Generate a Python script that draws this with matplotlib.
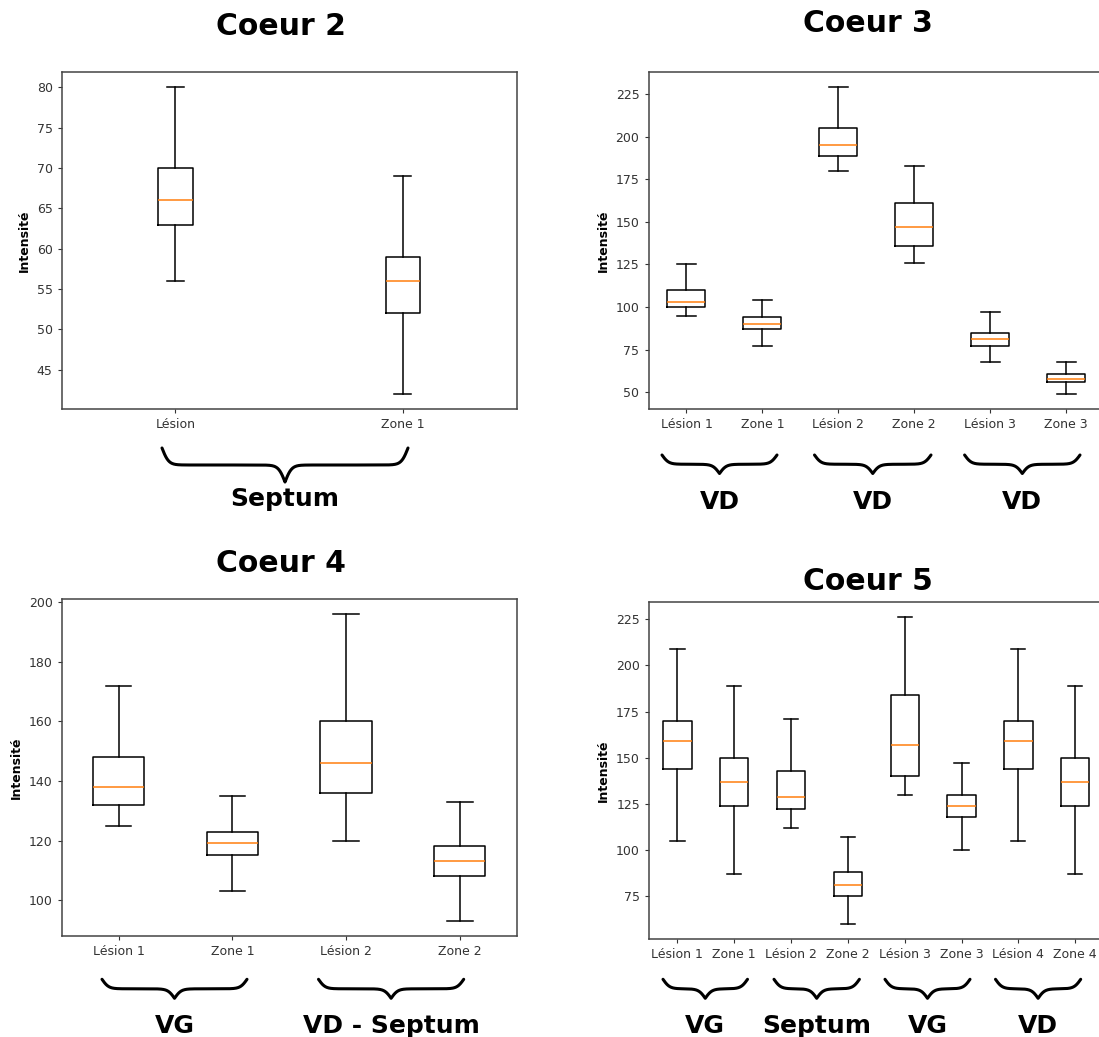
import numpy as np
import matplotlib
matplotlib.use("Agg")
import matplotlib.pyplot as plt
from matplotlib.lines import Line2D
from matplotlib.ticker import MultipleLocator

# ---- data: whisker low, q1, median, q3, whisker high ----
c2_labels = ["Lésion", "Zone 1"]
c2_whislo = [56, 42]
c2_q1 = [63, 52]
c2_med = [66, 56]
c2_q3 = [70, 59]
c2_whishi = [80, 69]

c3_labels = ["Lésion 1", "Zone 1", "Lésion 2", "Zone 2", "Lésion 3", "Zone 3"]
c3_whislo = [95, 77, 180, 126, 68, 49]
c3_q1 = [100, 87, 188.5, 136, 77, 56]
c3_med = [103, 90, 195, 147, 81, 58]
c3_q3 = [110, 94, 205, 161, 85, 61]
c3_whishi = [125, 104, 229, 183, 97, 68]

c4_labels = ["Lésion 1", "Zone 1", "Lésion 2", "Zone 2"]
c4_whislo = [125, 103, 120, 93]
c4_q1 = [132, 115, 136, 108]
c4_med = [138, 119, 146, 113]
c4_q3 = [148, 123, 160, 118]
c4_whishi = [172, 135, 196, 133]

c5_labels = ["Lésion 1", "Zone 1", "Lésion 2", "Zone 2",
             "Lésion 3", "Zone 3", "Lésion 4", "Zone 4"]
c5_whislo = [105, 87, 112, 60, 130, 100, 105, 87]
c5_q1 = [144, 124, 122, 75, 140, 118, 144, 124]
c5_med = [159, 137, 129, 81, 157, 124, 159, 137]
c5_q3 = [170, 150, 143, 88, 184, 130, 170, 150]
c5_whishi = [209, 189, 171, 107, 226, 147, 209, 189]

W, H = 1099, 1037
fig = plt.figure(figsize=(W / 100, H / 100), dpi=100)
fig.patch.set_facecolor("white")


def px_axes(left, top, right, bottom):
    """Add axes from pixel box (origin top-left)."""
    return fig.add_axes([left / W, 1 - bottom / H, (right - left) / W, (bottom - top) / H])


def fig_text(x, y, s, **kw):
    fig.text(x / W, 1 - y / H, s, **kw)


def brace(x1, x2, ytop, ytip, beta=0.3):
    xs = np.linspace(x1, (x1 + x2) / 2, 200)
    half = 1 / (1 + np.exp(-beta * (xs - xs[0]))) + 1 / (1 + np.exp(-beta * (xs - xs[-1]))) - 0.5
    yy = np.concatenate([half, half[-2::-1]])
    xx = np.concatenate([xs, (x1 + x2) - xs[-2::-1]])
    ypix = ytop + yy * (ytip - ytop)
    fig.add_artist(Line2D(xx / W, 1 - ypix / H, transform=fig.transFigure,
                          color="black", lw=2.2, solid_capstyle="round"))


def draw_panel(ax, labels, whislo, q1, med, q3, whishi, step):
    stats = [dict(label=l, whislo=a, q1=b, med=c, q3=d, whishi=e, fliers=[])
             for l, a, b, c, d, e in zip(labels, whislo, q1, med, q3, whishi)]
    ax.bxp(stats, showfliers=False,
           medianprops=dict(color="#ff7f0e", lw=1.1),
           boxprops=dict(lw=1.1), whiskerprops=dict(lw=1.1), capprops=dict(lw=1.1))
    ax.yaxis.set_major_locator(MultipleLocator(step))
    ax.tick_params(labelsize=9, length=3, colors="#333333", labelcolor="#333333")
    for sp in ax.spines.values():
        sp.set_color("#444444")
        sp.set_linewidth(1.1)


title_kw = dict(fontsize=21.5, fontweight="bold", ha="center", va="baseline")
group_kw = dict(fontsize=18, fontweight="bold", ha="center", va="baseline")
ylab_kw = dict(fontsize=9, fontweight="bold", rotation=90, ha="center", va="center")

# Coeur 2
ax = px_axes(61.7, 72, 516.7, 409.3)
draw_panel(ax, c2_labels, c2_whislo, c2_q1, c2_med, c2_q3, c2_whishi, 5)
fig_text(280.6, 35, "Coeur 2", **title_kw)
fig_text(24.6, 240.6, "Intensité", **ylab_kw)
brace(162, 408, 448, 482)
fig_text(285, 506, "Septum", **group_kw)

# Coeur 3
ax = px_axes(648.5, 72, 1104, 409.3)
draw_panel(ax, c3_labels, c3_whislo, c3_q1, c3_med, c3_q3, c3_whishi, 25)
fig_text(868, 32.5, "Coeur 3", **title_kw)
fig_text(603, 240.6, "Intensité", **ylab_kw)
for x1, x2, name in [(662, 777, "VD"), (814.5, 931, "VD"), (964.6, 1080, "VD")]:
    brace(x1, x2, 455, 473.5)
    fig_text((x1 + x2) / 2, 509, name, **group_kw)

# Coeur 4
ax = px_axes(61.7, 598.7, 516.7, 936.3)
draw_panel(ax, c4_labels, c4_whislo, c4_q1, c4_med, c4_q3, c4_whishi, 20)
fig_text(280.6, 571.7, "Coeur 4", **title_kw)
fig_text(16.1, 767.5, "Intensité", **ylab_kw)
for x1, x2, name in [(102, 247, "VG"), (318.5, 463.7, "VD - Septum")]:
    brace(x1, x2, 979.3, 998.3)
    fig_text((x1 + x2) / 2, 1033, name, **group_kw)

# Coeur 5
ax = px_axes(649, 602, 1103.6, 939.3)
draw_panel(ax, c5_labels, c5_whislo, c5_q1, c5_med, c5_q3, c5_whishi, 25)
fig_text(868, 590, "Coeur 5", **title_kw)
fig_text(603, 770.6, "Intensité", **ylab_kw)
for x1, x2, name in [(663, 747.5, "VG"), (774, 859.4, "Septum"),
                     (885, 970, "VG"), (995.5, 1080.7, "VD")]:
    brace(x1, x2, 979.3, 998.3)
    fig_text((x1 + x2) / 2, 1033, name, **group_kw)

fig.savefig("out.png", dpi=100, facecolor="white")
